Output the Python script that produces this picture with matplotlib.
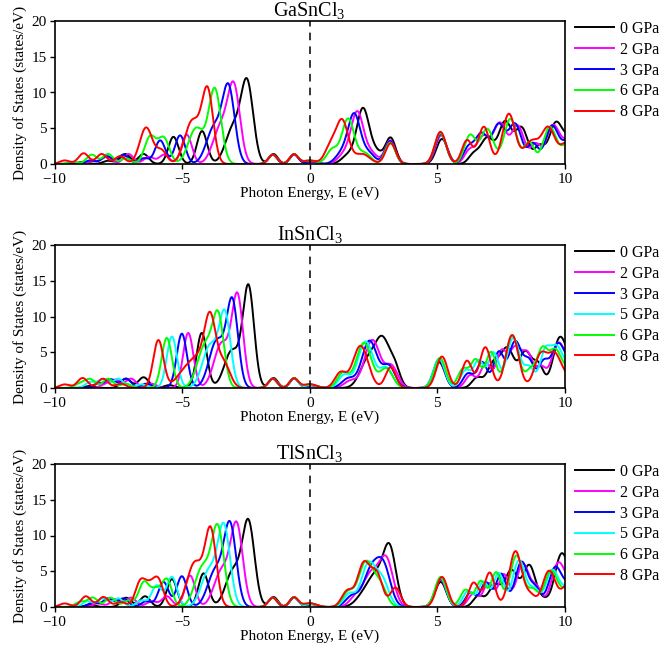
import numpy as np
import matplotlib
matplotlib.use("Agg")
import matplotlib.pyplot as plt

plt.rcParams['font.family'] = 'Liberation Serif'
plt.rcParams['mathtext.fontset'] = 'custom'
plt.rcParams['mathtext.rm'] = 'Liberation Serif'
plt.rcParams['mathtext.it'] = 'Liberation Serif:italic'

# DOS peaks: (energy eV, height, broadening)
ga_0gpa = [(-8.9, 0.3), (-7.9, 0.45), (-7.23, 1.4), (-6.51, 1.4), (-5.34, 3.8), (-4.22, 4.6),
           (-3.0, 5.0, 0.3), (-2.45, 11.0, 0.24), (-1.42, 1.4, 0.17), (-0.6, 1.35, 0.17), (0.1, 0.3),
           (1.5, 1.2, 0.25), (2.08, 7.6, 0.24), (2.6, 1.6, 0.25), (3.17, 3.6), (5.18, 3.5, 0.22),
           (6.42, 1.3), (6.95, 3.6, 0.25), (7.65, 5.8, 0.25), (8.3, 5.0, 0.25), (9.0, 2.4),
           (9.62, 5.3, 0.25), (10.2, 3.5, 0.3)]
ga_2gpa = [(-8.5, 0.4), (-7.95, 1.0), (-7.1, 1.4), (-6.3, 1.0), (-5.7, 1.3), (-4.82, 4.1),
           (-3.5, 5.0, 0.3), (-2.97, 10.4, 0.24), (-1.45, 1.3, 0.17), (-0.62, 1.35, 0.17), (0.05, 0.35),
           (1.35, 1.3, 0.25), (1.86, 7.1, 0.24), (2.4, 1.5, 0.25), (3.15, 3.3), (5.15, 4.0, 0.22),
           (6.25, 1.8), (6.8, 3.8, 0.25), (7.45, 5.6, 0.25), (8.15, 5.3, 0.25), (8.85, 2.7),
           (9.52, 5.2, 0.25), (10.2, 3.5, 0.3)]
ga_3gpa = [(-8.6, 0.5), (-7.95, 1.1), (-7.3, 1.3), (-6.5, 0.8), (-5.86, 3.3), (-5.08, 4.0),
           (-3.75, 5.0, 0.3), (-3.18, 10.4, 0.24), (-1.45, 1.3, 0.17), (-0.62, 1.35, 0.17), (0.05, 0.4),
           (1.25, 1.4, 0.25), (1.74, 6.8, 0.24), (2.3, 1.5, 0.25), (3.15, 3.2), (5.13, 4.2, 0.22),
           (6.2, 2.1), (6.72, 4.2, 0.25), (7.4, 5.4, 0.25), (8.05, 5.5, 0.25), (8.75, 2.8),
           (9.48, 5.2, 0.25), (10.2, 3.5, 0.3)]
ga_6gpa = [(-9.3, 0.3), (-8.54, 1.3), (-7.9, 1.4), (-7.2, 0.8), (-6.25, 3.8, 0.22), (-5.72, 3.6, 0.22),
           (-4.45, 5.0, 0.3), (-3.72, 10.4, 0.24), (-1.45, 1.3, 0.17), (-0.62, 1.35, 0.17), (0.0, 0.5, 0.25),
           (0.88, 2.0, 0.22), (1.5, 6.3, 0.24), (2.15, 1.5, 0.25), (3.15, 3.0), (5.12, 4.3, 0.22),
           (6.28, 4.0, 0.22), (6.95, 4.9, 0.25), (7.86, 6.3, 0.25), (8.6, 3.0), (9.4, 5.1, 0.25),
           (10.2, 3.2, 0.3)]
ga_8gpa = [(-9.6, 0.5), (-8.86, 1.5), (-8.15, 1.4), (-7.43, 1.1), (-6.41, 5.1, 0.25), (-5.8, 1.8),
           (-4.6, 6.0, 0.3), (-4.0, 10.0, 0.22), (-1.45, 1.3, 0.17), (-0.62, 1.35, 0.17), (0.0, 0.5, 0.25),
           (0.8, 2.3, 0.22), (1.27, 6.0, 0.24), (2.05, 1.4, 0.3), (3.17, 2.9), (5.12, 4.5, 0.22),
           (6.16, 3.3), (6.82, 5.2, 0.22), (7.8, 7.0, 0.25), (8.7, 3.2, 0.3), (9.35, 4.8, 0.25),
           (10.1, 3.0, 0.3)]

in_0gpa = [(-8.6, 0.3), (-7.2, 1.3), (-6.51, 1.5), (-5.5, 0.4), (-4.23, 7.7), (-3.05, 5.2, 0.3),
           (-2.40, 14.0, 0.22), (-1.42, 1.4, 0.17), (-0.6, 1.35, 0.17), (0.1, 0.4),
           (2.25, 3.5, 0.3), (2.85, 6.7, 0.3), (3.35, 2.2), (5.07, 3.6, 0.22), (6.55, 1.4),
           (7.2, 3.4, 0.25), (7.75, 5.3, 0.25), (8.45, 5.0, 0.25), (8.97, 3.0), (9.76, 6.0, 0.25),
           (10.2, 3.0, 0.3)]
in_2gpa = [(-8.0, 0.5), (-7.6, 1.1), (-7.0, 1.3), (-6.2, 0.6), (-4.76, 7.7), (-3.45, 6.2, 0.3),
           (-2.83, 12.6, 0.22), (-1.45, 1.3, 0.17), (-0.62, 1.35, 0.17), (0.05, 0.4),
           (1.6, 1.0, 0.25), (2.45, 6.7, 0.3), (3.2, 3.0, 0.25), (5.07, 3.9, 0.22), (6.3, 1.8),
           (6.9, 3.5), (7.5, 4.8), (8.05, 5.6, 0.25), (8.55, 4.2), (9.05, 2.8), (9.7, 5.5, 0.25),
           (10.2, 3.0, 0.3)]
in_3gpa = [(-8.3, 0.6), (-7.8, 1.2), (-7.2, 1.3), (-6.4, 0.6), (-5.01, 7.6), (-3.64, 6.6, 0.3),
           (-3.03, 11.8, 0.22), (-1.45, 1.3, 0.17), (-0.62, 1.35, 0.17), (0.05, 0.4),
           (1.5, 1.3, 0.25), (2.34, 6.6, 0.3), (3.1, 3.0, 0.25), (5.07, 4.0, 0.22), (6.2, 2.0),
           (6.75, 3.6), (7.4, 4.9), (8.05, 6.5, 0.25), (8.6, 3.5), (9.15, 3.4), (9.7, 5.4, 0.25),
           (10.2, 3.0, 0.3)]
in_5gpa = [(-8.6, 0.8), (-8.1, 1.2), (-7.5, 1.3), (-6.6, 0.5), (-5.40, 7.2), (-3.9, 5.9, 0.3),
           (-3.32, 10.0, 0.22), (-1.45, 1.3, 0.17), (-0.62, 1.35, 0.17), (0.05, 0.45),
           (1.35, 1.8, 0.22), (2.19, 6.5, 0.3), (3.0, 2.8, 0.25), (5.07, 4.1, 0.22), (6.1, 2.4),
           (6.62, 3.8), (7.2, 4.9), (7.97, 7.0, 0.25), (8.6, 2.8), (9.2, 4.5), (9.65, 5.2, 0.25),
           (10.2, 2.6, 0.3)]
in_6gpa = [(-9.0, 0.6), (-8.6, 1.2), (-7.9, 1.3), (-7.2, 0.6), (-5.60, 7.0), (-4.1, 5.9, 0.3),
           (-3.58, 9.4, 0.22), (-1.45, 1.3, 0.17), (-0.62, 1.35, 0.17), (0.0, 0.5, 0.25),
           (1.3, 2.1, 0.22), (2.12, 6.3, 0.3), (3.0, 2.7, 0.25), (5.1, 4.2, 0.22), (6.0, 2.6),
           (6.5, 3.9), (7.1, 5.0), (7.93, 7.4, 0.25), (8.65, 2.4), (9.1, 4.9), (9.6, 5.0, 0.25),
           (10.2, 2.4, 0.3)]
in_8gpa = [(-9.6, 0.5), (-8.9, 1.4), (-8.1, 1.3), (-7.4, 0.6), (-5.93, 6.7), (-5.0, 1.6, 0.3),
           (-4.4, 4.0, 0.35), (-3.9, 8.8, 0.22), (-3.38, 3.5, 0.25), (-1.45, 1.3, 0.17),
           (-0.62, 1.35, 0.17), (0.0, 0.55, 0.25),
           (1.2, 2.1, 0.22), (1.99, 5.9, 0.3), (3.17, 2.9), (5.18, 4.4, 0.22), (6.16, 3.8),
           (6.88, 5.7, 0.22), (7.93, 7.4, 0.25), (9.05, 4.6, 0.25), (9.6, 4.4, 0.25), (10.2, 1.5, 0.3)]

tl_0gpa = [(-8.6, 0.3), (-7.19, 1.3), (-6.45, 1.5), (-5.40, 3.9), (-4.16, 4.7), (-3.0, 5.0, 0.3),
           (-2.40, 11.6, 0.24), (-1.42, 1.4, 0.17), (-0.6, 1.35, 0.17), (0.1, 0.4),
           (2.1, 1.5, 0.3), (2.6, 4.0, 0.3), (3.13, 8.0, 0.25), (5.13, 3.5, 0.22), (6.6, 1.5),
           (7.25, 3.0, 0.25), (7.9, 5.0, 0.25), (8.6, 5.8, 0.25), (9.17, 0.8), (9.82, 6.0, 0.25),
           (10.2, 3.0, 0.3)]
tl_2gpa = [(-8.3, 0.5), (-7.6, 1.1), (-7.0, 1.3), (-6.2, 0.8), (-5.6, 1.5), (-4.69, 4.4),
           (-3.45, 5.0, 0.3), (-2.86, 11.2, 0.24), (-1.45, 1.3, 0.17), (-0.62, 1.35, 0.17), (0.05, 0.4),
           (1.8, 1.3, 0.25), (2.4, 4.5, 0.3), (3.0, 6.5, 0.27), (5.13, 3.8, 0.22), (6.4, 1.8),
           (7.0, 3.3), (7.6, 4.5), (8.35, 6.0, 0.25), (8.9, 2.5), (9.7, 5.4, 0.25), (10.2, 3.0, 0.3)]
tl_3gpa = [(-8.5, 0.6), (-7.9, 1.2), (-7.3, 1.2), (-6.4, 0.8), (-5.73, 3.5), (-5.01, 4.3),
           (-3.7, 5.0, 0.3), (-3.12, 11.2, 0.24), (-1.45, 1.3, 0.17), (-0.62, 1.35, 0.17), (0.05, 0.45),
           (1.65, 1.5, 0.25), (2.4, 5.0, 0.3), (2.9, 5.2, 0.27), (5.13, 3.9, 0.22), (6.3, 2.0),
           (6.9, 3.4), (7.5, 4.6), (8.3, 6.3, 0.25), (8.85, 2.4), (9.6, 5.2, 0.25), (10.2, 3.0, 0.3)]
tl_5gpa = [(-8.7, 0.8), (-8.1, 1.2), (-7.5, 1.2), (-6.6, 0.9), (-6.0, 3.0), (-5.4, 4.2),
           (-3.95, 5.0, 0.3), (-3.36, 11.0, 0.24), (-1.45, 1.3, 0.17), (-0.62, 1.35, 0.17), (0.05, 0.45),
           (1.55, 1.8, 0.22), (2.3, 6.0, 0.28), (2.85, 3.5, 0.25), (5.13, 4.0, 0.22), (6.2, 2.2),
           (6.8, 3.5), (7.4, 4.7), (8.2, 6.5, 0.25), (8.8, 2.3), (9.5, 5.0, 0.25), (10.2, 3.0, 0.3)]
tl_6gpa = [(-9.0, 0.7), (-8.5, 1.3), (-7.8, 1.3), (-7.1, 0.9), (-6.5, 3.4), (-6.05, 2.2), (-5.6, 3.8),
           (-4.2, 5.5, 0.3), (-3.60, 10.8, 0.24), (-1.45, 1.3, 0.17), (-0.62, 1.35, 0.17), (0.0, 0.5, 0.25),
           (1.5, 2.0, 0.22), (2.19, 6.2, 0.28), (2.75, 3.0, 0.25), (5.13, 4.2, 0.22), (6.1, 2.4),
           (6.7, 3.6), (7.3, 4.8), (8.1, 7.2, 0.25), (8.75, 2.3), (9.45, 5.0, 0.25), (10.2, 3.0, 0.3)]
tl_8gpa = [(-9.6, 0.5), (-8.77, 1.5), (-8.08, 1.4), (-7.4, 0.7), (-6.64, 3.4), (-6.28, 2.3), (-5.93, 3.6),
           (-4.5, 6.2, 0.3), (-3.88, 10.5, 0.22), (-1.45, 1.3, 0.17), (-0.62, 1.35, 0.17), (0.0, 0.55, 0.25),
           (1.47, 2.2, 0.22), (2.12, 6.1, 0.25), (2.64, 4.3, 0.22), (3.36, 2.7), (5.18, 4.2, 0.22),
           (6.42, 3.4), (7.05, 4.8), (8.06, 7.8, 0.25), (8.65, 1.5), (9.37, 5.0, 0.25), (10.2, 3.5, 0.3)]

compounds = ['GaSnCl$_3$', 'InSnCl$_3$', 'TlSnCl$_3$']
pressures = [
    ['0 GPa', '2 GPa', '3 GPa', '6 GPa', '8 GPa'],
    ['0 GPa', '2 GPa', '3 GPa', '5 GPa', '6 GPa', '8 GPa'],
    ['0 GPa', '2 GPa', '3 GPa', '5 GPa', '6 GPa', '8 GPa'],
]
series = [
    [ga_0gpa, ga_2gpa, ga_3gpa, ga_6gpa, ga_8gpa],
    [in_0gpa, in_2gpa, in_3gpa, in_5gpa, in_6gpa, in_8gpa],
    [tl_0gpa, tl_2gpa, tl_3gpa, tl_5gpa, tl_6gpa, tl_8gpa],
]
colors = {'0 GPa': 'black', '2 GPa': '#ff00ff', '3 GPa': '#0000ff',
          '5 GPa': '#00ffff', '6 GPa': '#00ff00', '8 GPa': '#ff0000'}

energy = np.linspace(-10, 10, 2001)


def broaden(peaks):
    dos = np.zeros_like(energy)
    for p in peaks:
        c, h = p[0], p[1]
        s = p[2] if len(p) > 2 else 0.2
        dos += h * np.exp(-(energy - c) ** 2 / (2 * s ** 2))
    return dos


fig = plt.figure(figsize=(6.6, 6.47), dpi=100)
tops = [21, 245, 464]
for i in range(3):
    top = 1 - tops[i] / 647
    ax = fig.add_axes([54.5 / 660, top - 143 / 647, 510.5 / 660, 143 / 647])
    for lab, peaks in zip(pressures[i], series[i]):
        ax.plot(energy, broaden(peaks), color=colors[lab], lw=1.4, label=lab)
    ax.axvline(0, color='black', ls=(0, (5, 4)), lw=1.1)
    ax.set_xlim(-10, 10)
    ax.set_ylim(0, 20)
    ax.set_xticks([-10, -5, 0, 5, 10])
    ax.set_yticks([0, 5, 10, 15, 20])
    ax.set_xticklabels(['\u221210', '\u22125', '0', '5', '10'])
    ax.tick_params(labelsize=11, length=3.5, width=1)
    ax.tick_params(axis='x', pad=3)
    ax.tick_params(axis='y', pad=2)
    for sp in ax.spines.values():
        sp.set_linewidth(1.2)
    ax.set_title(compounds[i], fontsize=14.5, pad=2)
    ax.set_xlabel('Photon Energy, E (eV)', fontsize=11, labelpad=0)
    ax.set_ylabel('Density of States (states/eV)', fontsize=11, labelpad=3)
    ax.legend(loc='upper left', bbox_to_anchor=(1.02, 1.0), frameon=False, fontsize=11.5,
              handlelength=2.4, handletextpad=0.4, labelspacing=0.3, borderpad=0,
              borderaxespad=0)

fig.savefig('out.png', dpi=100)
